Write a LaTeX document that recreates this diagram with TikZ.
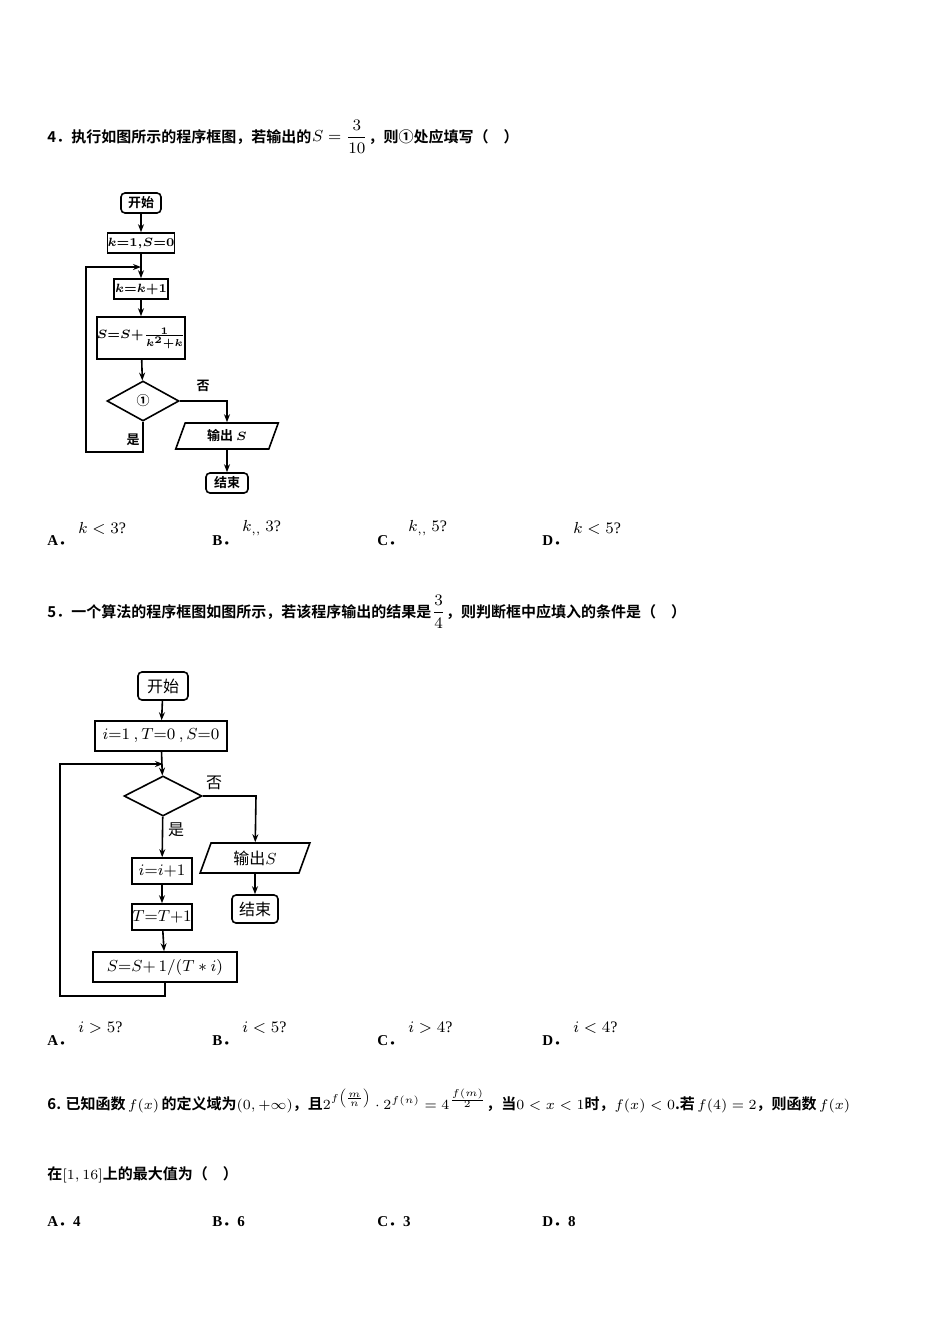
\documentclass[tikz,border=0pt]{standalone}
\usepackage{fontspec}
\usepackage{amsmath}
\usetikzlibrary{shapes.geometric,arrows.meta}
\setmainfont{Liberation Serif}
\newfontfamily\cjk{Noto Sans CJK SC}
\newfontfamily\cjkb{Noto Sans CJK SC Bold}
\newcommand{\optdot}{{\cjkb ．}}
\begin{document}
\begin{tikzpicture}[x=0.5pt, y=-0.5pt,
    txt/.style={anchor=west, inner sep=0pt, font=\fontsize{7.5}{9}\selectfont\cjkb},
    opt/.style={anchor=west, inner sep=0pt, font=\fontsize{7.5}{9}\selectfont\bfseries},
    ans/.style={anchor=west, inner sep=0pt, font=\fontsize{8}{9}\selectfont},
    term/.style={draw, thick, rounded corners=2pt, inner sep=0pt},
    proc/.style={draw, thick, inner sep=0pt},
    cond/.style={draw, thick, diamond, aspect=1.8, inner sep=0pt},
    io/.style={draw, thick, trapezium, trapezium left angle=70, trapezium right angle=110, inner sep=0pt},
    arrow/.style={-{Stealth[length=4pt,width=3pt]}, thick}
]
    \useasboundingbox (0,0) rectangle (950,1344);
    % Question 4
    \node[txt] (q4) at (47,137) {4．执行如图所示的程序框图，若输出的};
    \node[ans, anchor=west] (q4m) at (q4.east) {$S=\dfrac{3}{10}$};
    \node[txt] (q4b) at (q4m.east) {，则①处应填写（\quad ）};

    % Flowchart 1
    \begin{scope}[font=\fontsize{6.5}{8}\selectfont\cjkb]
    \node[term, minimum width=20pt, minimum height=10pt] (a1) at (141,203) {开始};
    \node[proc, minimum width=31pt, minimum height=10pt] (a2) at (141,243) {$\boldsymbol{k{=}1,\!S{=}0}$};
    \node[proc, minimum width=27pt, minimum height=10pt] (a3) at (141,289) {$\boldsymbol{k{=}k{+}1}$};
    \node[proc, minimum width=38pt, minimum height=21pt] (a4) at (141,338) {$\boldsymbol{S{=}S{+}\frac{1}{k^2+k}}$};
    \node[cond, minimum width=36pt, minimum height=20pt] (a5) at (143,401) {①};
    \node[io, minimum width=28pt, minimum height=13pt] (a6) at (227,436) {输出 $\boldsymbol{S}$};
    \node[term, minimum width=21pt, minimum height=10pt] (a7) at (227,483) {结束};
    \coordinate (c1) at (86,267);
    \coordinate (c2) at (86,452);
    \coordinate (c3) at (143,452);
    \coordinate (c4) at (227,401);
    \draw[arrow] (a1) -- (a2);
    \draw[arrow] (a2) -- (a3);
    \draw[arrow] (a3) -- (a4);
    \draw[arrow] (a4) -- (a5);
    \draw[arrow] (a5.east) -- (c4) -- (a6);
    \draw[arrow] (a6) -- (a7);
    \draw[arrow] (a5.south) -- (c3) -- (c2) -- (c1) -- (141,267);
    \node[inner sep=0pt] (no1) at (203,386) {否};
    \node[inner sep=0pt] (yes1) at (133,440) {是};
    \end{scope}

    % Options 4
    \node[opt] (o4a) at (47,541) {A\optdot};
    \node[ans] (o4am) at (78,528) {$k<3$?};
    \node[opt] (o4b) at (212,541) {B\optdot};
    \node[ans] (o4bm) at (242,528) {$k_{,,}\ 3$?};
    \node[opt] (o4c) at (377,541) {C\optdot};
    \node[ans] (o4cm) at (408,528) {$k_{,,}\ 5$?};
    \node[opt] (o4d) at (542,541) {D\optdot};
    \node[ans] (o4dm) at (573,528) {$k<5$?};

    % Question 5
    \node[txt] (q5) at (47,612) {5．一个算法的程序框图如图所示，若该程序输出的结果是};
    \node[ans] (q5m) at (q5.east) {$\dfrac{3}{4}$};
    \node[txt] (q5b) at (q5m.east) {，则判断框中应填入的条件是（\quad ）};

    % Flowchart 2
    \begin{scope}[font=\fontsize{8}{9}\selectfont\cjk]
    \node[term, minimum width=25pt, minimum height=14pt] (b1) at (163,686) {开始};
    \node[proc, minimum width=66pt, minimum height=15pt] (b2) at (161,736) {$i{=}1\ ,T{=}0\ ,S{=}0$};
    \node[cond, minimum width=39pt, minimum height=20pt] (b3) at (163,796) {};
    \node[io, minimum width=36pt, minimum height=15pt] (b4) at (255,858) {输出$S$};
    \node[term, minimum width=23pt, minimum height=14pt] (b5) at (255,909) {结束};
    \node[proc, minimum width=30pt, minimum height=13pt] (b6) at (162,871) {$i{=}i{+}1$};
    \node[proc, minimum width=30pt, minimum height=13pt] (b7) at (162,917) {$T{=}T{+}1$};
    \node[proc, minimum width=72pt, minimum height=15pt] (b8) at (165,967) {$S{=}S{+}\,1/(T*i)$};
    \coordinate (d1) at (60,764);
    \coordinate (d2) at (60,996);
    \coordinate (d3) at (165,996);
    \coordinate (d4) at (256,796);
    \draw[arrow] (b1) -- (b2);
    \draw[arrow] (b2) -- (b3);
    \draw[arrow] (b3.east) -- (d4) -- (b4);
    \draw[arrow] (b4) -- (b5);
    \draw[arrow] (b3) -- (b6);
    \draw[arrow] (b6) -- (b7);
    \draw[arrow] (b7) -- (b8);
    \draw[arrow] (b8) -- (d3) -- (d2) -- (d1) -- (163,764);
    \node[inner sep=0pt] (no2) at (214,783) {否};
    \node[inner sep=0pt] (yes2) at (176,830) {是};
    \end{scope}

    % Options 5
    \node[opt] (o5a) at (47,1041) {A\optdot};
    \node[ans] (o5am) at (78,1028) {$i>5$?};
    \node[opt] (o5b) at (212,1041) {B\optdot};
    \node[ans] (o5bm) at (242,1028) {$i<5$?};
    \node[opt] (o5c) at (377,1041) {C\optdot};
    \node[ans] (o5cm) at (408,1028) {$i>4$?};
    \node[opt] (o5d) at (542,1041) {D\optdot};
    \node[ans] (o5dm) at (573,1028) {$i<4$?};

    % Question 6
    \node[txt] (q6) at (47,1101) {6. 已知函数\,$f(x)$\,的定义域为$(0,+\infty)$，且$2^{f\left(\frac{m}{n}\right)}\cdot2^{f(n)}=4^{\frac{f(m)}{2}}$，当$0<x<1$时，$f(x)<0$.若\,$f(4)=2$，则函数\,$f(x)$};
    \node[txt] (q6b) at (47,1175) {在$[1,16]$上的最大值为（\quad ）};

    % Options 6
    \node[opt] (o6a) at (47,1222) {A\optdot 4};
    \node[opt] (o6b) at (212,1222) {B\optdot 6};
    \node[opt] (o6c) at (377,1222) {C\optdot 3};
    \node[opt] (o6d) at (542,1222) {D\optdot 8};
\end{tikzpicture}
\end{document}
